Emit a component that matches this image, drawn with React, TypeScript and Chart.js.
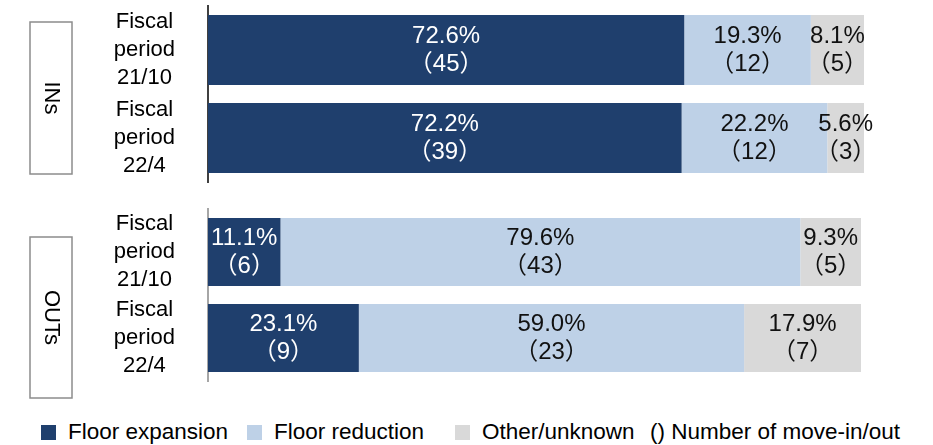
import React, { useEffect, useRef } from 'react';
import { Chart, registerables } from 'chart.js';

Chart.register(...registerables);

// ---------- data ----------
const categories = [
  ['Fiscal', 'period', '21/10'],
  ['Fiscal', 'period', '22/4'],
];
const seriesNames = ['Floor expansion', 'Floor reduction', 'Other/unknown'];
const seriesColors = ['#1F3F6D', '#BED1E7', '#D9D9D9'];
const labelColors = ['#FFFFFF', '#111111', '#111111'];
const countNote = '() Number of move-in/out';
const groupNames = ['INs', 'OUTs'];

const insExpansionPct = [72.6, 72.2];
const insReductionPct = [19.3, 22.2];
const insOtherPct = [8.1, 5.6];
const insExpansionCount = [45, 39];
const insReductionCount = [12, 12];
const insOtherCount = [5, 3];

const outsExpansionPct = [11.1, 23.1];
const outsReductionPct = [79.6, 59.0];
const outsOtherPct = [9.3, 17.9];
const outsExpansionCount = [6, 9];
const outsReductionCount = [43, 23];
const outsOtherCount = [5, 7];

const FONT = "'Liberation Sans', Arial, 'Noto Sans CJK JP', sans-serif";

// ---------- plugins ----------
const barLabelPlugin = {
  id: 'barLabels',
  afterDatasetsDraw(chart: any) {
    const ctx = chart.ctx;
    ctx.save();
    ctx.font = `24px ${FONT}`;
    ctx.textAlign = 'center';
    ctx.textBaseline = 'middle';
    chart.data.datasets.forEach((ds: any, di: number) => {
      const meta = chart.getDatasetMeta(di);
      meta.data.forEach((el: any, i: number) => {
        const v = ds.data[i];
        if (v == null) return;
        const cx = (el.x + el.base) / 2;
        ctx.fillStyle = ds.labelColor;
        ctx.fillText(`${v.toFixed(1)}%`, cx, el.y - 14);
        ctx.fillText(`（${ds.counts[i]}）`, cx, el.y + 14);
      });
    });
    ctx.restore();
  },
};

const groupBoxPlugin = {
  id: 'groupBox',
  afterDraw(chart: any, _args: any, opts: any) {
    if (!opts || !opts.text) return;
    const ctx = chart.ctx;
    ctx.save();
    ctx.strokeStyle = '#8C8C8C';
    ctx.lineWidth = 1.5;
    ctx.strokeRect(opts.x, opts.y, opts.w, opts.h);
    ctx.translate(opts.x + opts.w / 2, opts.y + opts.h / 2);
    ctx.rotate(Math.PI / 2);
    ctx.fillStyle = '#000000';
    ctx.font = `22px ${FONT}`;
    ctx.textAlign = 'center';
    ctx.textBaseline = 'middle';
    ctx.fillText(opts.text, 0, 0);
    ctx.restore();
  },
};

function makeConfig(
  pct: number[][],
  counts: number[][],
  padding: any,
  barPct: number,
  borderColor: string,
  box: any
): any {
  return {
    type: 'bar',
    data: {
      labels: categories,
      datasets: seriesNames.map((name, k) => ({
        label: name,
        data: pct[k],
        counts: counts[k],
        labelColor: labelColors[k],
        backgroundColor: seriesColors[k],
        borderWidth: 0,
        categoryPercentage: 1,
        barPercentage: barPct,
      })),
    },
    options: {
      indexAxis: 'y',
      responsive: false,
      animation: false,
      layout: { padding },
      scales: {
        x: { stacked: true, min: 0, max: 100, display: false },
        y: {
          stacked: true,
          grid: { display: false, drawTicks: false },
          border: { display: true, color: borderColor, width: 2 },
          ticks: {
            color: '#000000',
            autoSkip: false,
            crossAlign: 'center',
            padding: 33,
            font: { size: 22, family: FONT, lineHeight: 1.27 },
          },
          afterFit(scale: any) {
            scale.width = 126;
            scale.paddingTop = 0;
            scale.paddingBottom = 0;
          },
        },
      },
      plugins: {
        legend: { display: false },
        tooltip: { enabled: false },
        groupBox: box,
      },
    },
    plugins: [barLabelPlugin, groupBoxPlugin],
  };
}

export default function App() {
  const ref1 = useRef<HTMLCanvasElement>(null);
  const ref2 = useRef<HTMLCanvasElement>(null);

  useEffect(() => {
    const c1 = new Chart(
      ref1.current as HTMLCanvasElement,
      makeConfig(
        [insExpansionPct, insReductionPct, insOtherPct],
        [insExpansionCount, insReductionCount, insOtherCount],
        { left: 82, right: 69, top: 6, bottom: 13 },
        0.795,
        '#404040',
        { text: groupNames[0], x: 30, y: 22, w: 42, h: 152 }
      )
    );
    const c2 = new Chart(
      ref2.current as HTMLCanvasElement,
      makeConfig(
        [outsExpansionPct, outsReductionPct, outsOtherPct],
        [outsExpansionCount, outsReductionCount, outsOtherCount],
        { left: 82, right: 72, top: 14, bottom: 24 },
        0.79,
        '#A6A6A6',
        { text: groupNames[1], x: 30, y: 42, w: 42, h: 161 }
      )
    );
    return () => {
      c1.destroy();
      c2.destroy();
    };
  }, []);

  const legendItems = [
    { label: seriesNames[0], color: seriesColors[0], left: 41 },
    { label: seriesNames[1], color: seriesColors[1], left: 247 },
    { label: seriesNames[2], color: seriesColors[2], left: 455 },
    { label: countNote, color: null as string | null, left: 650 },
  ];

  return (
    <div style={{ position: 'absolute', left: 0, top: 0, width: 933, height: 445, background: '#fff', overflow: 'hidden' }}>
      <canvas ref={ref1} width={933} height={195} style={{ position: 'absolute', left: 0, top: 0, display: 'block' }} />
      <canvas ref={ref2} width={933} height={210} style={{ position: 'absolute', left: 0, top: 195, display: 'block' }} />
      {legendItems.map((it) => (
        <div
          key={it.label}
          style={{
            position: 'absolute',
            left: it.left,
            top: 419,
            height: 26,
            display: 'flex',
            alignItems: 'center',
            fontFamily: FONT,
            fontSize: 22.5,
            color: '#000',
            whiteSpace: 'nowrap',
          }}
        >
          {it.color && (
            <span style={{ display: 'inline-block', width: 15, height: 15, background: it.color, marginRight: 12 }} />
          )}
          <span>{it.label}</span>
        </div>
      ))}
    </div>
  );
}
